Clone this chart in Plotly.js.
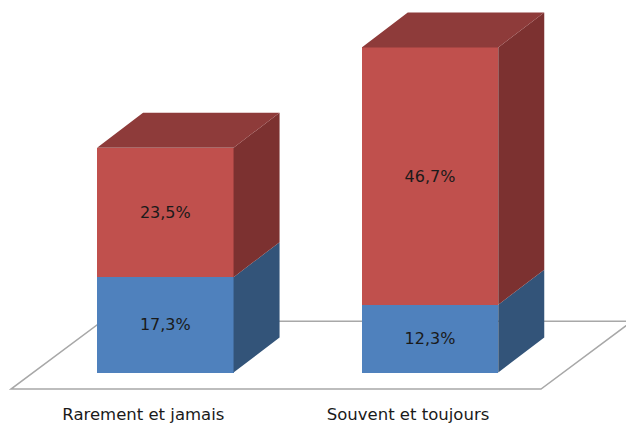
<!DOCTYPE html>
<html>
<head>
<meta charset="utf-8">
<script src="https://cdn.plot.ly/plotly-3.0.1.min.js"></script>
<style>html,body{margin:0;padding:0;background:#fff;overflow:hidden}</style>
</head>
<body>
<div id="chart" style="width:626px;height:425px"></div>
<script>
const categories = ["Rarement et jamais", "Souvent et toujours"];
const rarelyOften = [0, 1];
const blueValues = [17.3, 12.3];
const redValues = [23.5, 46.7];

const FONT = "DejaVu Sans, Verdana, sans-serif";
const BAR_W = 0.5157, DX = 0.1738, DY = 6.35, LABEL_SHIFT = -0.083;
const fmt = v => v.toFixed(1).replace(".", ",") + "%";

function sidePolys(base, vals) {
  const xs = [], ys = [];
  rarelyOften.forEach((c, i) => {
    const r = c + BAR_W / 2, b = base[i], t = b + vals[i];
    xs.push(r, r + DX, r + DX, r, r, null);
    ys.push(b, b + DY, t + DY, t, b, null);
  });
  return {x: xs, y: ys};
}
function topPolys(tops) {
  const xs = [], ys = [];
  rarelyOften.forEach((c, i) => {
    const l = c - BAR_W / 2, r = c + BAR_W / 2, t = tops[i];
    xs.push(l, r, r + DX, l + DX, l, null);
    ys.push(t, t, t + DY, t + DY, t, null);
  });
  return {x: xs, y: ys};
}
const zeros = blueValues.map(() => 0);
const totals = blueValues.map((v, i) => v + redValues[i]);
const poly = (p, color) => ({type: "scatter", mode: "lines", x: p.x, y: p.y, fill: "toself",
  fillcolor: color, line: {width: 0, color: color}, hoverinfo: "skip", showlegend: false});
const bar = (vals, color) => ({type: "bar", x: rarelyOften, y: vals, width: BAR_W,
  marker: {color: color, line: {width: 0}}, text: vals.map(fmt), textposition: "inside",
  insidetextanchor: "middle", textangle: 0, constraintext: "none",
  insidetextfont: {family: FONT, size: 16, color: "#1a1a1a"}, hoverinfo: "skip", showlegend: false});

const traces = [
  bar(blueValues, "#4F81BD"),
  bar(redValues, "#C0504D"),
  poly(sidePolys(zeros, blueValues), "#335479"),
  poly(sidePolys(blueValues, redValues), "#7C3130"),
  poly(topPolys(totals), "#8E3B3A")
];

// floor plate
const fl = {x0: -0.583, x1: 1.4195, y0: -3.0, dx: 0.344, dy: 12.3};
const floorPath = `M ${fl.x0} ${fl.y0} L ${fl.x1} ${fl.y0} L ${fl.x1 + fl.dx} ${fl.y0 + fl.dy} L ${fl.x0 + fl.dx} ${fl.y0 + fl.dy} Z`;

const layout = {
  width: 626, height: 425,
  margin: {l: 0, r: 0, t: 0, b: 30, pad: 0},
  paper_bgcolor: "#fff", plot_bgcolor: "#fff",
  barmode: "stack", showlegend: false,
  xaxis: {range: [-0.6245, 1.7405], tickvals: rarelyOften.map(c => c + LABEL_SHIFT), ticktext: categories,
    showgrid: false, zeroline: false, showline: false, ticks: "outside", ticklen: 4, tickcolor: "rgba(0,0,0,0)",
    tickfont: {family: FONT, size: 16.5, color: "#1a1a1a"}},
  yaxis: {range: [-4.08, 67.6], visible: false, showgrid: false, zeroline: false},
  shapes: [{type: "path", xref: "x", yref: "y", path: floorPath, layer: "below",
    fillcolor: "#fff", line: {color: "#A8A8A8", width: 1.5}}]
};
Plotly.newPlot("chart", traces, layout, {displayModeBar: false, staticPlot: true});
</script>
</body>
</html>
